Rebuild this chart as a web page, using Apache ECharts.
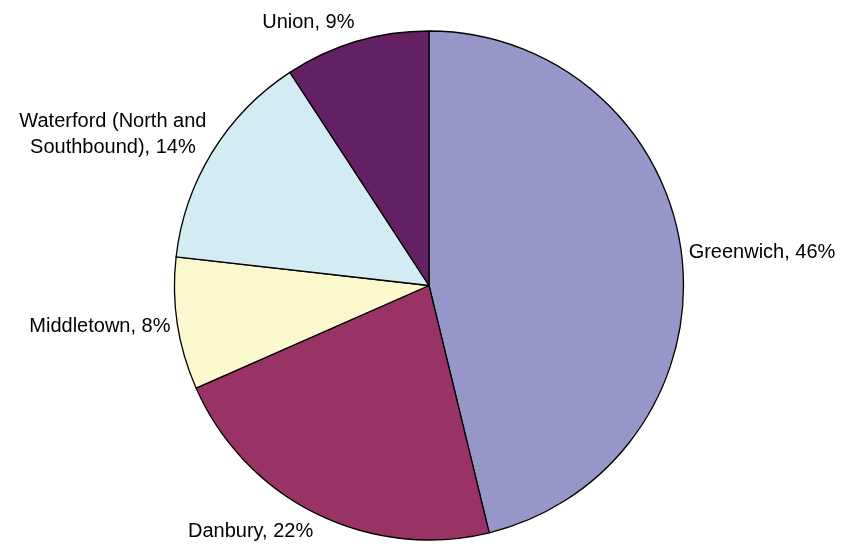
<!DOCTYPE html>
<html>
<head>
<meta charset="utf-8">
<script src="https://cdn.jsdelivr.net/npm/echarts@6/dist/echarts.min.js"></script>
<style>
  html, body { margin: 0; padding: 0; background: #fff; }
  #chart { width: 844px; height: 552px; }
</style>
</head>
<body>
<div id="chart"></div>
<script>
var sites = ['Greenwich', 'Danbury', 'Middletown', 'Waterford (North and\nSouthbound)', 'Union'];
var shares = [46.2, 22.2, 8.4, 14.0, 9.2];
var colors = ['#9696c8', '#993366', '#fbf8cd', '#d3ecf3', '#632062'];

var cx = 429, cy = 285.5, r = 254.5, gap = 7;
var total = shares.reduce(function (a, b) { return a + b; }, 0);

// mid angle of each slice, measured clockwise from 12 o'clock
var mids = [];
var acc = 0;
for (var i = 0; i < shares.length; i++) {
    mids.push((acc + shares[i] / 2) / total * Math.PI * 2);
    acc += shares[i];
}

var chart = echarts.init(document.getElementById('chart'));
chart.setOption({
    animation: false,
    series: [{
        type: 'pie',
        center: [cx, cy],
        radius: r,
        startAngle: 90,
        clockwise: true,
        avoidLabelOverlap: false,
        data: sites.map(function (s, i) {
            return { name: s, value: shares[i], itemStyle: { color: colors[i] } };
        }),
        itemStyle: { borderColor: '#000', borderWidth: 1.3 },
        label: {
            show: true,
            position: 'outside',
            fontFamily: 'Liberation Sans, Arial, sans-serif',
            fontSize: 20,
            lineHeight: 26,
            color: '#000',
            formatter: function (p) {
                return p.name + ', ' + Math.round(p.percent) + '%';
            }
        },
        labelLine: { show: false },
        labelLayout: function (p) {
            var a = mids[p.dataIndex];
            var dx = Math.sin(a), dy = -Math.cos(a);
            var ax = cx + (r + gap) * dx;
            var ay = cy + (r + gap) * dy;
            var w = p.labelRect.width, h = p.labelRect.height;
            return {
                x: ax + (dx >= 0 ? w / 2 : -w / 2),
                y: ay + dy * h / 2,
                align: 'center',
                verticalAlign: 'middle'
            };
        }
    }]
});
</script>
</body>
</html>
